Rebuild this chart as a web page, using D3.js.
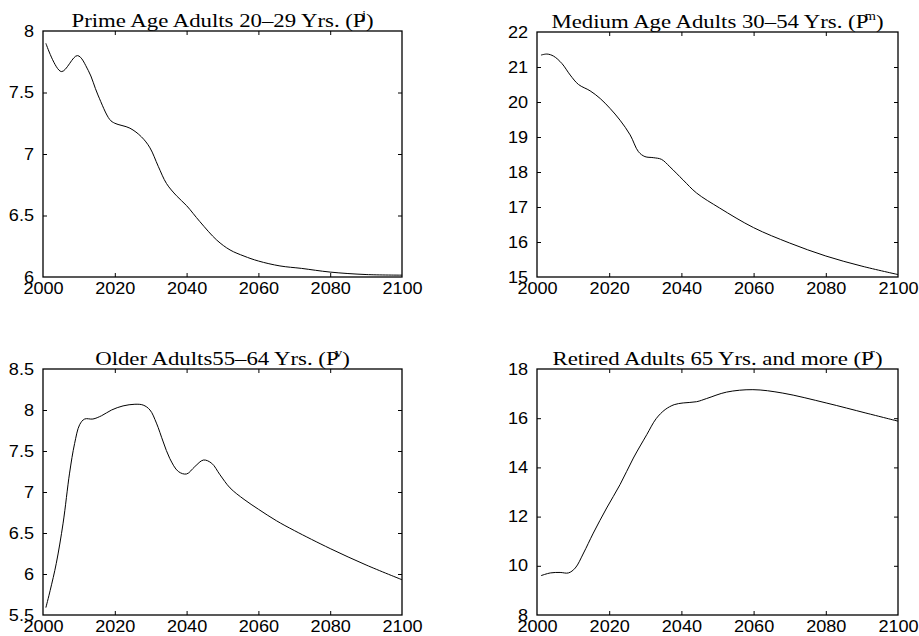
<!DOCTYPE html>
<html>
<head>
<meta charset="utf-8">
<script src="https://cdn.jsdelivr.net/npm/d3@7"></script>
<style>
  html, body { margin: 0; padding: 0; background: #fff; }
  svg { display: block; }
  .tick text { font-family: "Liberation Sans", Arial, sans-serif; }
  .title { font-family: "Liberation Serif", "Times New Roman", serif; }
</style>
</head>
<body>
<svg id="chart" width="919" height="636"></svg>
<script>
// Population shares by age group, 2000-2100 (percent of total)
const xTicks = [2000, 2020, 2040, 2060, 2080, 2100];

const primeYears  = [2000.8, 2005.1, 2009.6, 2012.6, 2015.3, 2018.6, 2020, 2024.2, 2027.4, 2029.8, 2032.1, 2034.4, 2037.2, 2040, 2043.7, 2048.4, 2052.1, 2056, 2060, 2066, 2072, 2080, 2090, 2100];
const primeValues = [7.90, 7.67, 7.80, 7.68, 7.48, 7.28, 7.25, 7.21, 7.14, 7.05, 6.90, 6.76, 6.66, 6.58, 6.45, 6.30, 6.22, 6.17, 6.13, 6.09, 6.07, 6.04, 6.02, 6.015];
const primeTicks  = [6, 6.5, 7, 7.5, 8];

const mediumYears  = [2001.1, 2002.8, 2004.6, 2006.9, 2009.2, 2011.5, 2014.7, 2017.5, 2020.2, 2023, 2025.8, 2028.1, 2029.9, 2032.2, 2034.5, 2036.8, 2040.5, 2044.2, 2050.6, 2060, 2070, 2080, 2090, 2100];
const mediumValues = [21.34, 21.37, 21.31, 21.10, 20.77, 20.50, 20.32, 20.10, 19.82, 19.48, 19.06, 18.58, 18.44, 18.41, 18.36, 18.15, 17.77, 17.40, 16.97, 16.41, 15.97, 15.60, 15.31, 15.07];
const mediumTicks  = [15, 16, 17, 18, 19, 20, 21, 22];

const olderYears  = [2000.8, 2002, 2003.7, 2005.6, 2007.4, 2008.8, 2010.2, 2011.6, 2013.9, 2016.3, 2019.1, 2022.3, 2025.6, 2027.9, 2029.8, 2031.6, 2033.5, 2035.3, 2037.7, 2040, 2042.3, 2044.7, 2047, 2049.3, 2052.1, 2056, 2060, 2065, 2070, 2080, 2090, 2100];
const olderValues = [5.59, 5.80, 6.13, 6.62, 7.23, 7.59, 7.82, 7.89, 7.89, 7.93, 8.00, 8.05, 8.07, 8.06, 8.00, 7.84, 7.61, 7.41, 7.25, 7.22, 7.31, 7.39, 7.35, 7.21, 7.05, 6.91, 6.79, 6.65, 6.53, 6.31, 6.11, 5.93];
const olderTicks  = [5.5, 6, 6.5, 7, 7.5, 8, 8.5];

const retiredYears  = [2001.1, 2003.7, 2006.4, 2008.7, 2010.6, 2012.9, 2015.6, 2019.3, 2023, 2026.7, 2030.4, 2033, 2035.5, 2038, 2040.5, 2044.2, 2047, 2052.5, 2059.8, 2068.1, 2080.1, 2091.1, 2100];
const retiredValues = [9.60, 9.71, 9.73, 9.71, 9.91, 10.52, 11.33, 12.35, 13.30, 14.38, 15.33, 15.98, 16.35, 16.55, 16.62, 16.67, 16.80, 17.06, 17.16, 17.02, 16.62, 16.21, 15.88];
const retiredTicks  = [8, 10, 12, 14, 16, 18];

const panels = [
  { title: ["Prime Age Adults 20\u201329 Yrs. (P", "j", ")"], years: primeYears, values: primeValues, ticks: primeTicks,
    box: { x0: 43, x1: 402, y0: 31, y1: 277 } },
  { title: ["Medium Age Adults 30\u201354 Yrs. (P", "m", ")"], years: mediumYears, values: mediumValues, ticks: mediumTicks,
    box: { x0: 537, x1: 898, y0: 32, y1: 277 } },
  { title: ["Older Adults55\u201364 Yrs. (P", "v", ")"], years: olderYears, values: olderValues, ticks: olderTicks,
    box: { x0: 43, x1: 402, y0: 369, y1: 615 } },
  { title: ["Retired Adults 65 Yrs. and more (P", "r", ")"], years: retiredYears, values: retiredValues, ticks: retiredTicks,
    box: { x0: 537, x1: 898, y0: 369, y1: 615 } }
];

const svg = d3.select("#chart");
const fmt = d => String(d);

// Stretch tick labels slightly wider, like the original renderer's Helvetica
function widen(sel) {
  sel.selectAll(".tick text").each(function () {
    const w = this.getComputedTextLength();
    d3.select(this).attr("textLength", w * 1.13).attr("lengthAdjust", "spacingAndGlyphs");
  });
}

panels.forEach(p => {
  const b = p.box;
  const x = d3.scaleLinear().domain([2000, 2100]).range([b.x0, b.x1]);
  const y = d3.scaleLinear().domain(d3.extent(p.ticks)).range([b.y1, b.y0]);
  const g = svg.append("g");

  // bottom axis with labels, ticks pointing inward
  const bottom = g.append("g").attr("transform", `translate(0,${b.y1})`)
    .call(d3.axisBottom(x).tickValues(xTicks).tickFormat(fmt).tickSizeInner(-4).tickSizeOuter(0));
  // top axis, ticks only
  const top = g.append("g").attr("transform", `translate(0,${b.y0})`)
    .call(d3.axisTop(x).tickValues(xTicks).tickFormat("").tickSizeInner(-4).tickSizeOuter(0));
  // left axis with labels
  const left = g.append("g").attr("transform", `translate(${b.x0},0)`)
    .call(d3.axisLeft(y).tickValues(p.ticks).tickFormat(fmt).tickSizeInner(-4).tickSizeOuter(0).tickPadding(9));
  // right axis, ticks only
  const right = g.append("g").attr("transform", `translate(${b.x1},0)`)
    .call(d3.axisRight(y).tickValues(p.ticks).tickFormat("").tickSizeInner(-4).tickSizeOuter(0));

  [bottom, top, left, right].forEach(a => {
    a.select(".domain").remove();
    a.selectAll(".tick line").attr("stroke", "#000").attr("stroke-width", 1);
    a.selectAll(".tick text").attr("fill", "#000").attr("font-size", 16);
  });
  // end ticks coincide with the frame
  [bottom, top].forEach(a => a.selectAll(".tick").filter(d => d === 2000 || d === 2100).select("line").remove());
  [left, right].forEach(a => a.selectAll(".tick").filter((d, i, n) => i === 0 || i === n.length - 1).select("line").remove());
  widen(bottom);
  widen(left);
  bottom.selectAll(".tick text").attr("y", 5).attr("dy", "0.72em");

  // frame
  g.append("rect")
    .attr("x", b.x0).attr("y", b.y0)
    .attr("width", b.x1 - b.x0).attr("height", b.y1 - b.y0)
    .attr("fill", "none").attr("stroke", "#000").attr("stroke-width", 1.3);

  // series line
  const pts = p.years.map((yr, i) => [yr, p.values[i]]);
  g.append("path")
    .datum(pts)
    .attr("fill", "none")
    .attr("stroke", "#000")
    .attr("stroke-width", 1)
    .attr("d", d3.line().x(d => x(d[0])).y(d => y(d[1])).curve(d3.curveCatmullRom.alpha(0.5)));

  // title with superscript, stretched horizontally around the panel centre
  const t = g.append("text")
    .attr("class", "title")
    .attr("transform", `translate(${(b.x0 + b.x1) / 2},${b.y0 - 4.5}) scale(1.2,1)`)
    .attr("text-anchor", "middle")
    .attr("font-size", 19)
    .attr("fill", "#000");
  t.append("tspan").text(p.title[0]);
  t.append("tspan").attr("font-size", 12).attr("dx", -3).attr("dy", -8).text(p.title[1]);
  t.append("tspan").attr("dy", 8).text(p.title[2]);
});
</script>
</body>
</html>
